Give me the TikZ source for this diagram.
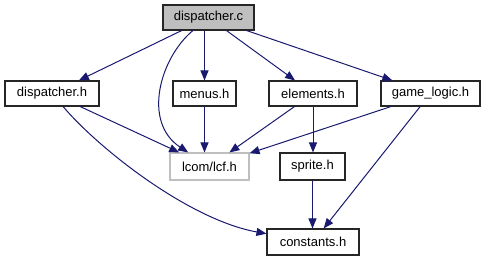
\documentclass[tikz,border=0pt]{standalone}
\usepackage{fontspec}
\setmainfont{Liberation Sans}
\usepackage{xcolor}
\usepackage{tikz}
\usetikzlibrary{arrows.meta}

\definecolor{edgeblue}{HTML}{191970}
\definecolor{boxgray}{HTML}{BFBFBF}

\begin{document}
\begin{tikzpicture}[
      x=1pt, y=-1pt,
      box/.style={draw=black!85, line width=1.1pt, rectangle, fill=white,
                  minimum height=25pt, inner sep=0pt, align=center,
                  font=\fontsize{13}{15}\selectfont},
      arr/.style={draw=edgeblue, line width=1pt,
                  -{Triangle[length=10pt,width=8pt]}},
    ]
    \useasboundingbox (0,0) rectangle (485,261);
    \node[box, fill=boxgray, minimum width=91pt] (dc) at (208.5,17.5) {dispatcher.c};
    \node[box, minimum width=94pt] (dh) at (52,93.5) {dispatcher.h};
    \node[box, minimum width=63pt] (menus) at (204.5,93.5) {menus.h};
    \node[box, minimum width=88pt] (elem) at (313,93.5) {elements.h};
    \node[box, minimum width=99pt] (logic) at (430.5,93.5) {game\_logic.h};
    \node[box, draw=boxgray, minimum width=79pt, minimum height=27pt] (lcf) at (209.5,166.5) {lcom/lcf.h};
    \node[box, minimum width=65pt, minimum height=27pt] (sprite) at (312.5,166.5) {sprite.h};
    \node[box, minimum width=92pt, minimum height=26pt] (const) at (313,242) {constants.h};
    \draw[arr] (dc) -- (dh);
    \draw[arr] (dc) .. controls (160,58) and (142,122) .. (lcf);
    \draw[arr] (dc.south -| menus) -- (menus);
    \draw[arr] (dc) -- (elem);
    \draw[arr] (dc) -- (logic);
    \draw[arr] (dh) -- (lcf);
    \draw[arr] (dh) .. controls (100,150) and (190,220) .. (const);
    \draw[arr] (menus) -- (menus |- lcf.north);
    \draw[arr] (elem) -- (lcf);
    \draw[arr] (elem) -- (elem |- sprite.north);
    \draw[arr] (logic) -- (lcf);
    \draw[arr] (logic) -- (const);
    \draw[arr] (sprite) -- (sprite |- const.north);
  \end{tikzpicture}
\end{document}
